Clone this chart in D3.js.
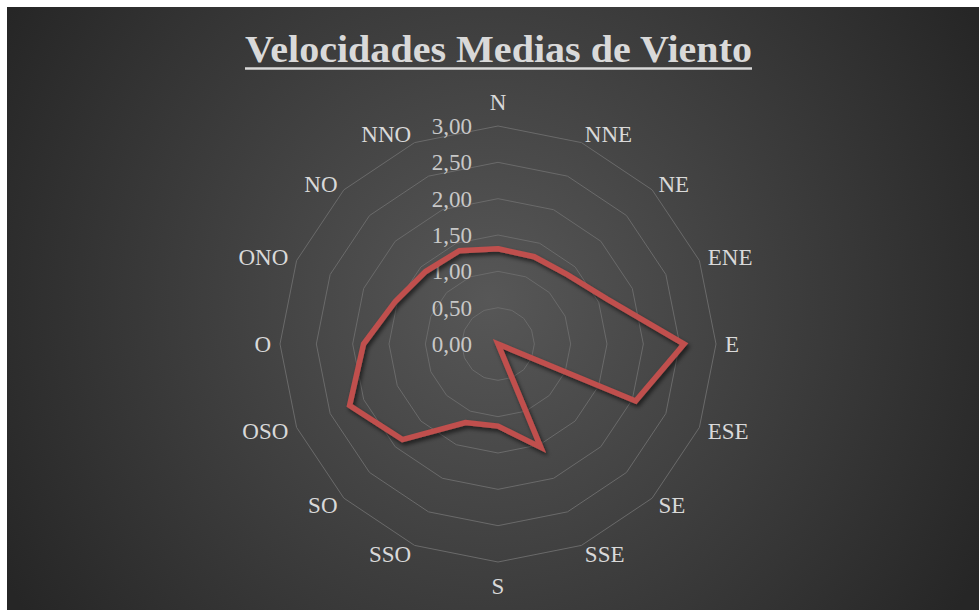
<!DOCTYPE html>
<html>
<head>
<meta charset="utf-8">
<script src="https://cdn.jsdelivr.net/npm/d3@7"></script>
<style>
  html, body { margin: 0; padding: 0; background: #fff; }
  svg { display: block; }
</style>
</head>
<body>
<div id="chart"></div>
<script>
const directions = ["N", "NNE", "NE", "ENE", "E", "ESE", "SE", "SSE", "S", "SSO", "SO", "OSO", "O", "ONO", "NO", "NNO"];
const speeds = [1.31, 1.30, 1.35, 1.62, 2.56, 2.05, 0.00, 1.54, 1.13, 1.17, 1.86, 2.21, 1.85, 1.53, 1.41, 1.39];
const ticks = [0, 0.5, 1, 1.5, 2, 2.5, 3];

const width = 979;
const height = 610;
const center = { x: 498, y: 344 };
const outerRadius = 218;
const labelRadius = outerRadius + 9;

const svg = d3.select("#chart").append("svg").attr("width", width).attr("height", height);

const defs = svg.append("defs");
const bg = defs.append("radialGradient").attr("id", "bg")
  .attr("gradientUnits", "userSpaceOnUse")
  .attr("cx", 490).attr("cy", 300).attr("r", 560);
bg.append("stop").attr("offset", "0%").attr("stop-color", "#575757");
bg.append("stop").attr("offset", "100%").attr("stop-color", "#262626");

const shadow = defs.append("filter").attr("id", "shadow")
  .attr("x", "-20%").attr("y", "-20%").attr("width", "140%").attr("height", "140%");
shadow.append("feDropShadow").attr("dx", 2).attr("dy", 3).attr("stdDeviation", 2)
  .attr("flood-color", "#000").attr("flood-opacity", 0.6);

svg.append("rect").attr("x", 7).attr("y", 7).attr("width", width - 7).attr("height", height - 7).attr("fill", "url(#bg)");

// title + underline
const title = svg.append("text")
  .attr("x", 498.5).attr("y", 62)
  .attr("text-anchor", "middle")
  .attr("font-family", "'Liberation Serif', serif")
  .attr("font-weight", "bold")
  .attr("font-size", 37)
  .attr("fill", "#d9d9d9")
  .attr("textLength", 507)
  .attr("lengthAdjust", "spacingAndGlyphs")
  .text("Velocidades Medias de Viento");
const tb = title.node().getBBox();
svg.append("line")
  .attr("x1", tb.x).attr("x2", tb.x + tb.width)
  .attr("y1", 68.5).attr("y2", 68.5)
  .attr("stroke", "#d9d9d9").attr("stroke-width", 2.5);

const rScale = d3.scaleLinear().domain([0, 3]).range([0, outerRadius]);
const angle = d3.scaleLinear().domain([0, directions.length]).range([0, 2 * Math.PI]);

const chart = svg.append("g").attr("transform", `translate(${center.x},${center.y})`);

// ring gridlines
const ring = d3.lineRadial().curve(d3.curveLinearClosed);
chart.selectAll(".ring")
  .data(ticks.filter(t => t > 0))
  .enter()
  .append("path")
  .attr("class", "ring")
  .attr("d", t => ring(directions.map((d, i) => [angle(i), rScale(t)])))
  .attr("fill", "none")
  .attr("stroke", "#6a6a6a")
  .attr("stroke-width", 1);

// tick labels
chart.selectAll(".tick")
  .data(ticks)
  .enter()
  .append("text")
  .attr("class", "tick")
  .attr("x", -26)
  .attr("y", t => -rScale(t))
  .attr("dy", "0.35em")
  .attr("text-anchor", "end")
  .attr("font-family", "'Liberation Serif', serif")
  .attr("font-size", 23)
  .attr("fill", "#c8c8c8")
  .text(t => d3.format(".2f")(t).replace(".", ","));

// category labels
chart.selectAll(".cat")
  .data(directions)
  .enter()
  .append("text")
  .attr("class", "cat")
  .attr("x", (d, i) => labelRadius * Math.sin(angle(i)))
  .attr("y", (d, i) => {
    const s = Math.sin(angle(i)), c = Math.cos(angle(i));
    return -labelRadius * c - (Math.abs(s) < 0.01 ? c * 15 : 0);
  })
  .attr("dy", "0.35em")
  .attr("text-anchor", (d, i) => {
    const s = Math.sin(angle(i));
    return Math.abs(s) < 0.01 ? "middle" : (s > 0 ? "start" : "end");
  })
  .attr("font-family", "'Liberation Serif', serif")
  .attr("font-size", 23)
  .attr("fill", "#d9d9d9")
  .text(d => d);

// series
const line = d3.lineRadial()
  .angle((d, i) => angle(i))
  .radius(d => rScale(d))
  .curve(d3.curveLinearClosed);
chart.append("path")
  .datum(speeds)
  .attr("d", line)
  .attr("fill", "none")
  .attr("stroke", "#c0504d")
  .attr("stroke-width", 5.5)
  .attr("stroke-linejoin", "miter")
  .attr("filter", "url(#shadow)");
</script>
</body>
</html>
